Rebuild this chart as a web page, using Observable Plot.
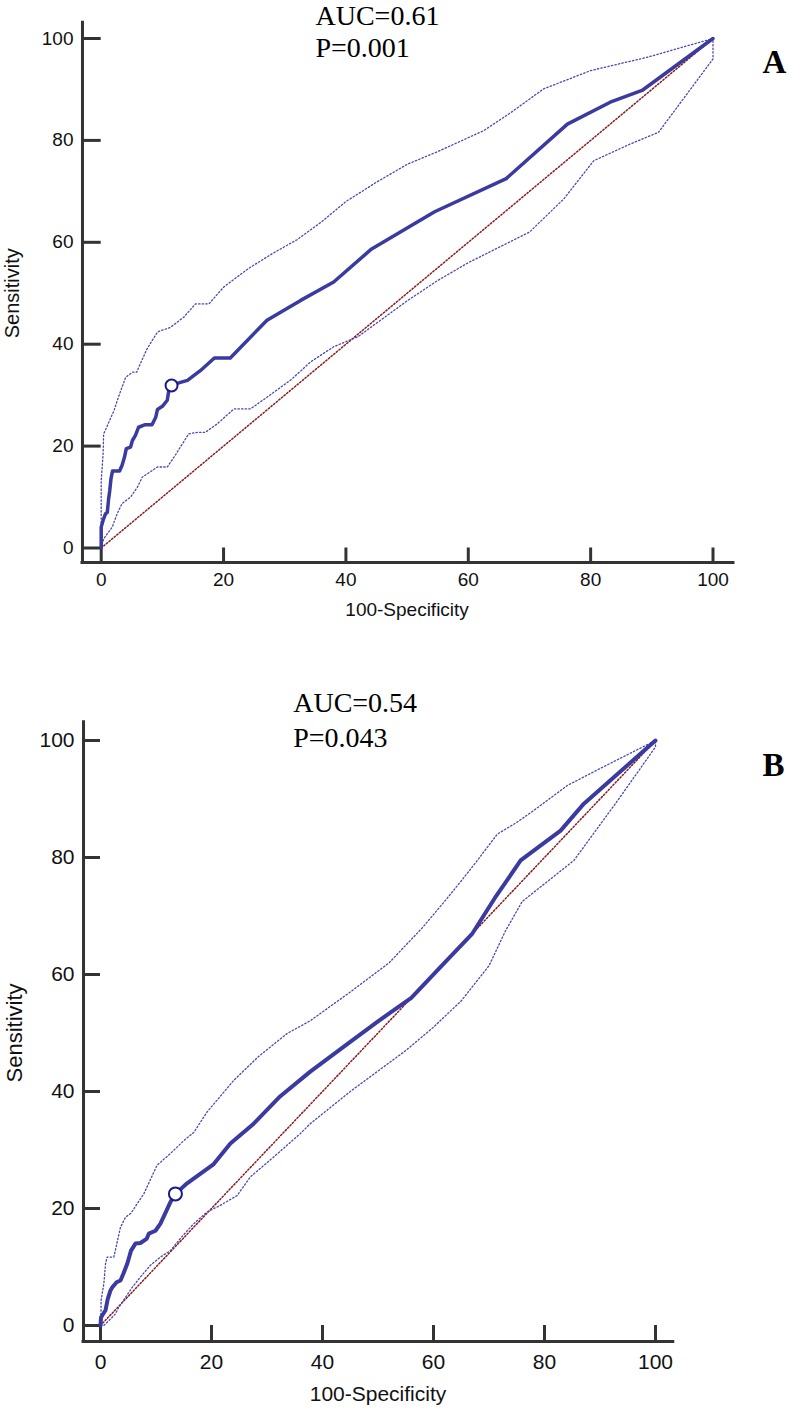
<!DOCTYPE html>
<html><head><meta charset="utf-8">
<script src="https://cdn.jsdelivr.net/npm/d3@7"></script>
<script src="https://cdn.jsdelivr.net/npm/@observablehq/plot@0.6"></script>
<style>
html,body{margin:0;padding:0;background:#fff;}
#wrap{position:relative;width:789px;height:1410px;overflow:hidden;background:#fff;}
#wrap svg{position:absolute;left:0;overflow:visible;}
</style></head><body><div id="wrap"></div>
<script>
// ---------- data ----------
const xTicks = [0, 20, 40, 60, 80, 100];
const yTicks = [0, 20, 40, 60, 80, 100];
const diagonal = [[0, 0], [100, 100]];

const aucA = "AUC=0.61", pA = "P=0.001", letterA = "A";
const aucB = "AUC=0.54", pB = "P=0.043", letterB = "B";

const rocA = [[0,0],[0,4.1],[0.3,5.4],[0.7,6.7],[1.0,7.0],[1.2,9.5],[1.4,11.3],[1.6,13.6],[1.85,15.1],[3.0,15.1],[3.4,16.2],[3.8,17.8],[4.1,19.5],[4.8,19.8],[5.1,21.1],[5.6,22.1],[6.1,23.7],[7.2,24.2],[8.3,24.2],[8.9,25.6],[9.2,27.2],[10.0,27.8],[10.8,29.0],[11.05,30.9],[11.5,31.9],[12.4,32.3],[14.1,32.9],[16.2,34.8],[18.5,37.3],[21.1,37.3],[27.1,44.7],[32.6,48.6],[38,52.2],[44.2,58.7],[54.5,66],[66.2,72.5],[76.2,83.2],[83.2,87.5],[88.4,89.8],[100,100]];
const upperA = [[0,0],[0,13.2],[0.3,18.2],[0.4,22.4],[1.0,24],[2.1,27],[2.9,29.9],[4.0,33.5],[5.1,34.5],[5.8,34.5],[6.4,36.2],[7.5,39.1],[9.2,42.4],[11.3,43.3],[13.5,45.3],[15.4,47.9],[17.6,47.9],[20,51.2],[24,54.8],[28,57.8],[32,60.5],[36,64],[40,68],[45,71.8],[50,75.3],[55,77.8],[62.5,81.9],[67,85.5],[72.3,90.1],[80,93.7],[89.2,96.3],[100,100]];
const lowerA = [[0,0],[0.4,1.8],[1.8,4.1],[2.6,6.7],[3.4,8.7],[4.8,10],[5.9,11.9],[6.7,13.9],[9.2,15.9],[10.8,15.9],[12.1,18.2],[14.3,22.4],[15.7,22.7],[17,22.7],[19,24.4],[21.7,27.3],[24.4,27.3],[27.1,29.6],[31,33],[34.2,36.5],[38,39.5],[42,41.5],[46,45],[50,48.5],[55,52.5],[60,56],[65,59],[70,62],[75.6,68.5],[80.5,76],[86.5,79.3],[91.1,81.6],[100,96],[100,100]];
const cutA = [[11.5, 31.9]];

const rocB = [[0,0],[0.1,1.4],[0.5,2.0],[0.9,2.6],[1.3,4.5],[1.8,6.0],[2.1,6.5],[2.9,7.4],[3.6,7.7],[4.1,8.8],[4.8,10.5],[5.2,11.8],[5.5,12.8],[6.3,14.0],[7.2,14.1],[8.3,14.8],[8.7,15.7],[9.9,16.2],[10.8,17.4],[12.6,21.1],[13.5,22.5],[15.6,24.3],[20.4,27.6],[23.4,31.1],[27.6,34.5],[32.4,39.2],[37.8,43.4],[45,48.5],[50,52],[56,56],[61.5,61.5],[67,67],[71,73],[75.7,79.5],[82.9,84.6],[87.1,89.2],[100,100]];
const upperB = [[0,0],[0.1,2.8],[0.1,4.3],[0.6,7.1],[0.9,10.5],[1.2,11.7],[2.4,11.7],[3.6,16.8],[4.5,18.5],[5.5,19.2],[6.6,20.8],[7.8,22.5],[10.2,27.4],[12.6,29.4],[15,31.6],[16.8,33],[19.2,36.5],[24,41.9],[28.5,46],[33.6,49.9],[37.8,52.1],[45,57],[52,62],[58,68],[62,72.5],[65,76],[67.9,79.5],[71.5,84],[75,86],[78,88],[84.1,92.3],[90,95.2],[100,100]];
const lowerB = [[0,0],[0.6,0],[1.8,1.1],[2.7,2.0],[3.3,3.1],[4.5,4.8],[5.7,6.5],[7.2,8.3],[9,10.3],[10.8,11.7],[12.6,12.8],[14.5,15],[16.8,17.4],[19.2,19.4],[21.5,20.5],[24.6,22.2],[27,25.4],[31.2,28.8],[36,32.8],[37.8,34.5],[45,40],[50,43.5],[55,47],[60,51],[65,55.5],[70,61.5],[73,67.5],[76,72.5],[80,75.5],[85.3,79.5],[88,83],[93,89.5],[100,98.9],[100,100]];
const cutB = [[13.5, 22.5]];

// ---------- drawing ----------
const SANS = "'Liberation Sans', Arial, Helvetica, sans-serif";
const SERIF = "'Liberation Serif', 'Times New Roman', Times, serif";
const AXIS = "#333333";
const MAIN = "#3a3aa0";
const CI = "#4848b4";
const DIAG = "#8b1c1c";
const px = d => d[0], py = d => d[1];

function panel(o) {
  const svg = Plot.plot({
    width: 789, height: o.height,
    marginLeft: o.mL, marginRight: o.mR, marginTop: o.mT, marginBottom: o.mB,
    x: {domain: [0, 100], axis: null},
    y: {domain: [0, 100], axis: null},
    style: {background: "transparent", fontFamily: SANS, overflow: "visible"},
    marks: [
      // axes
      Plot.ruleX([o.xOff], {x: d => d, y1: o.yOff, y2: o.yEnd, stroke: AXIS, strokeWidth: 3, strokeLinecap: "square"}),
      Plot.ruleY([o.yOff], {y: d => d, x1: o.xOff, x2: o.xEnd, stroke: AXIS, strokeWidth: 3, strokeLinecap: "square"}),
      Plot.ruleY(yTicks, {y: d => d, x1: o.xOff, x2: 0, stroke: AXIS, strokeWidth: 3}),
      Plot.ruleX(xTicks, {x: d => d, y1: o.yOff, y2: 0, stroke: AXIS, strokeWidth: 3}),
      Plot.text(yTicks, {x: o.xOff, y: d => d, text: d => String(d), textAnchor: "end", dx: -9, fontSize: o.fs, fontFamily: SANS, fill: "#111"}),
      Plot.text(xTicks, {x: d => d, y: o.yOff, text: d => String(d), dy: o.xLabDy, lineAnchor: "middle", fontSize: o.fs, fontFamily: SANS, fill: "#111"}),
      Plot.text(["100-Specificity"], {frameAnchor: "bottom", dy: o.xTitleDy, textAnchor: "middle", lineAnchor: "middle", fontSize: o.fs, fontFamily: SANS, fill: "#111"}),
      Plot.text(["Sensitivity"], {frameAnchor: "left", rotate: -90, dx: o.yTitleDx, textAnchor: "middle", lineAnchor: "middle", fontSize: o.fs + 1, fontFamily: SANS, fill: "#111"}),
      // curves
      Plot.line(diagonal, {x: px, y: py, stroke: DIAG, strokeWidth: 1.5, strokeDasharray: "1.4,2"}),
      Plot.line(o.upper, {x: px, y: py, stroke: CI, strokeWidth: 1.3, strokeDasharray: "1.4,2.2"}),
      Plot.line(o.lower, {x: px, y: py, stroke: CI, strokeWidth: 1.3, strokeDasharray: "1.4,2.2"}),
      Plot.line(o.roc, {x: px, y: py, stroke: MAIN, strokeWidth: o.lw, strokeLinejoin: "round"}),
      Plot.dot(o.cut, {x: px, y: py, r: o.r, fill: "white", stroke: "#1a1a8c", strokeWidth: 2}),
      // annotations
      Plot.text([o.auc], {frameAnchor: "top-left", dx: o.annDx, dy: o.aucDy, textAnchor: "start", lineAnchor: "bottom", fontSize: 28, fontFamily: SERIF, fill: "#000"}),
      Plot.text([o.p], {frameAnchor: "top-left", dx: o.annDx, dy: o.pDy, textAnchor: "start", lineAnchor: "bottom", fontSize: 28, fontFamily: SERIF, fill: "#000"}),
      Plot.text([o.letter], {frameAnchor: "top-left", dx: o.letDx, dy: o.letDy, textAnchor: "start", lineAnchor: "bottom", fontSize: 33, fontWeight: "bold", fontFamily: SERIF, fill: "#000"})
    ]
  });
  svg.style.top = o.top + "px";
  return svg;
}

const wrap = document.getElementById("wrap");
wrap.appendChild(panel({
  top: 0, height: 640, mL: 100.7, mR: 76.5, mT: 38, mB: 92.5,
  xOff: -3.06, yOff: -2.85, xEnd: 103.35, yEnd: 103.1,
  fs: 19, xLabDy: 17, xTitleDy: 61.5, yTitleDx: -88.7, lw: 3.5, r: 6,
  roc: rocA, upper: upperA, lower: lowerA, cut: cutA,
  auc: aucA, p: pA, letter: letterA,
  annDx: 214.3, aucDy: -13.5, pDy: 18, letDx: 661.3, letDy: 34
}));
wrap.appendChild(panel({
  top: 660, height: 750, mL: 100, mR: 134, mT: 80, mB: 85,
  xOff: -3.06, yOff: -2.74, xEnd: 103.2, yEnd: 103.1,
  fs: 21, xLabDy: 21, xTitleDy: 69, yTitleDx: -86, lw: 4, r: 6.5,
  roc: rocB, upper: upperB, lower: lowerB, cut: cutB,
  auc: aucB, p: pB, letter: letterB,
  annDx: 192.7, aucDy: -28.3, pDy: 6, letDx: 662, letDy: 35
}));
</script></body></html>
